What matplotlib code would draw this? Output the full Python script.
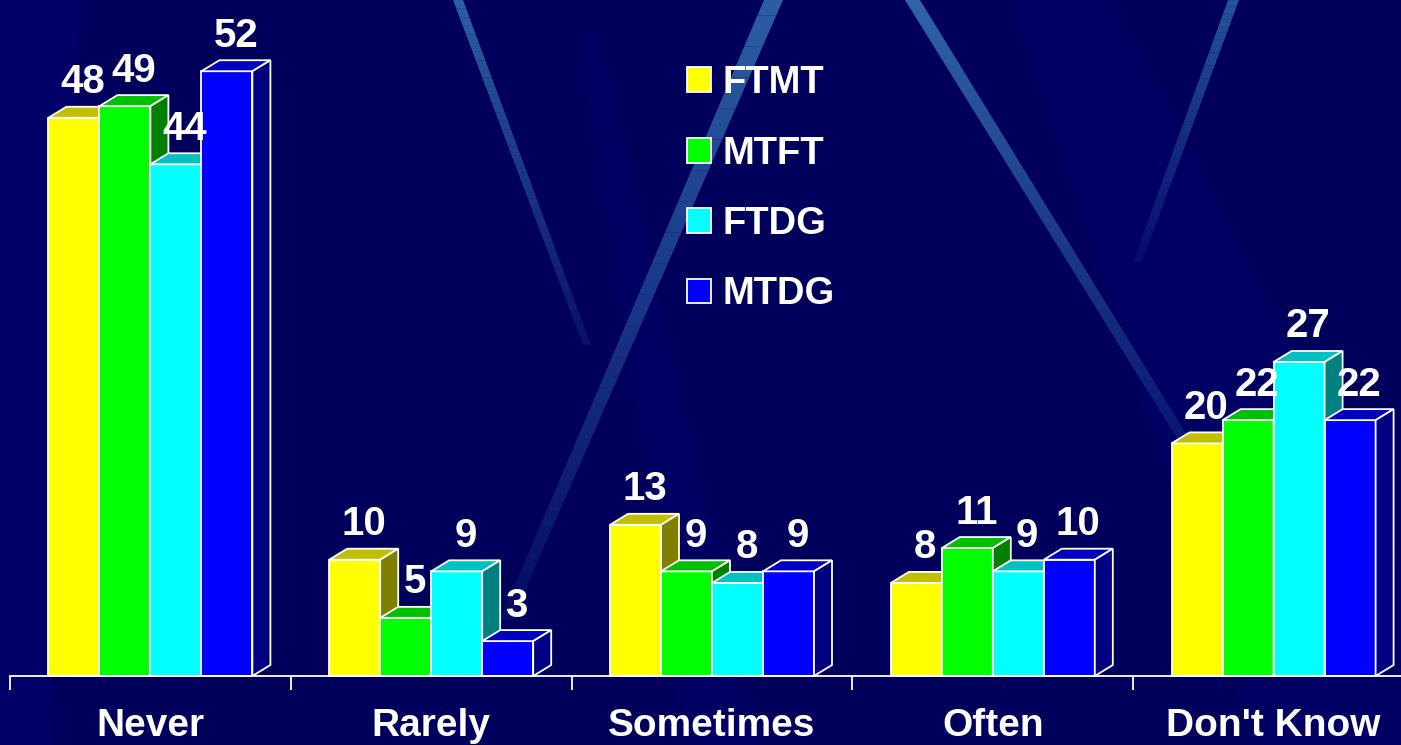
import numpy as np
import matplotlib
matplotlib.use("Agg")
import matplotlib.pyplot as plt
from matplotlib.patches import Polygon

# ── Data ──────────────────────────────────────────────────────────────────────
categories = ["Never", "Rarely", "Sometimes", "Often", "Don't Know"]
series = ["FTMT", "MTFT", "FTDG", "MTDG"]
ftmt = [48, 10, 13, 8, 20]
mtft = [49, 5, 9, 11, 22]
ftdg = [44, 9, 8, 9, 27]
mtdg = [52, 3, 9, 10, 22]
values = [ftmt, mtft, ftdg, mtdg]

# ── Style ─────────────────────────────────────────────────────────────────────
front_colors = ["#ffff00", "#00ff00", "#00ffff", "#0000ff"]
top_colors   = ["#c0c000", "#00c000", "#00c0c0", "#0000c0"]
side_colors  = ["#808000", "#008000", "#008080", "#000080"]
BG = "#00005c"
FONT = "Liberation Sans"

W, H = 1401, 745
X0_PX, CAT_PX = 10, 280.8      # left edge of axis, width of one category
BASE_PX, UNIT_PX = 676, 11.63  # baseline row, pixels per unit
DX_PX, DY_PX = 18, 11          # 3D depth offset
BAR_PX = 51

fig = plt.figure(figsize=(W / 100, H / 100), dpi=100)
fig.patch.set_facecolor(BG)


def px(x, y):
    """top-left pixel coords -> figure fraction"""
    return (x / W, 1 - y / H)


def panel(pts, color, alpha=1.0):
    fig.add_artist(Polygon([px(*p) for p in pts], closed=True, transform=fig.transFigure,
                           facecolor=color, edgecolor="none", alpha=alpha, zorder=0))


def streak(top, bot, w0, w1, a0, a1, n=40):
    """light diagonal streak, tapering and fading towards its lower end"""
    (xa, ya), (xb, yb) = top, bot
    for k in range(n):
        t0, t1 = k / n, (k + 1) / n
        p0 = (xa + (xb - xa) * t0, ya + (yb - ya) * t0)
        p1 = (xa + (xb - xa) * t1, ya + (yb - ya) * t1)
        wa = w0 + (w1 - w0) * t0
        wb = w0 + (w1 - w0) * t1
        a = a0 + (a1 - a0) * (t0 + t1) / 2
        panel([p0, (p0[0] + wa, p0[1]), (p1[0] + wb, p1[1]), p1], "#3470b0", a)


# background decoration
panel([(0, 0), (80, 0), (50, 745), (0, 745)], "#000068")
panel([(577, 30), (600, 30), (760, 745), (690, 745)], "#000063")
panel([(1010, 0), (1110, 0), (1401, 560), (1401, 745), (1260, 745)], "#000064")
streak((453, 0), (583, 345), 10, 8, 0.85, 0.15)
streak((764, 0), (500, 620), 19, 12, 0.85, 0.1)
streak((905, 0), (1178, 440), 15, 12, 0.9, 0.2)
streak((1228, 0), (1133, 262), 11, 9, 0.75, 0.1)

ax = fig.add_axes([0, 0, 1, 1])
ax.set_facecolor("none")

bw = BAR_PX / CAT_PX
dx = DX_PX / CAT_PX
dy = DY_PX / UNIT_PX
centers = np.arange(len(categories)) + 0.5

handles = []
for j, vals in enumerate(values):
    xs = centers + (j - 1.5) * bw
    b = ax.bar(xs, vals, width=bw, color=front_colors[j], edgecolor="white",
               linewidth=1.3, zorder=10 + j, label=series[j])
    handles.append(b)
    for x, v in zip(xs, vals):
        l, r = x - bw / 2, x + bw / 2
        ax.add_patch(Polygon([(l, v), (r, v), (r + dx, v + dy), (l + dx, v + dy)],
                             facecolor=top_colors[j], edgecolor="white", linewidth=1.3,
                             zorder=10.5 + j))
        ax.add_patch(Polygon([(r, 0), (r + dx, dy), (r + dx, v + dy), (r, v)],
                             facecolor=side_colors[j], edgecolor="white", linewidth=1.3,
                             zorder=10.5 + j))
        ax.annotate(f"{v}", (x + dx / 2, v + dy), xytext=(0, 4), textcoords="offset points",
                    ha="center", va="bottom", color="white", fontsize=29,
                    fontweight="bold", family=FONT, zorder=20)

# axis line + ticks
for s in ["top", "right", "left"]:
    ax.spines[s].set_visible(False)
ax.spines["bottom"].set_position(("data", 0))
ax.spines["bottom"].set_bounds(0, len(categories))
ax.spines["bottom"].set_color("white")
ax.spines["bottom"].set_linewidth(1.3)
ax.spines["bottom"].set_zorder(30)
ax.set_yticks([])
ax.set_xticks(np.arange(len(categories) + 1))
ax.set_xticklabels([])
ax.tick_params(axis="x", which="major", direction="out", length=10, width=1.3, color="white")
ax.set_xticks(centers, minor=True)
ax.set_xticklabels(categories, minor=True)
ax.tick_params(axis="x", which="minor", length=0, pad=23, labelcolor="white")
for t in ax.get_xticklabels(minor=True):
    t.set_fontsize(28)
    t.set_fontweight("bold")
    t.set_family(FONT)

# limits last, so the tick setters cannot widen them
ax.set_xlim(-X0_PX / CAT_PX, (W - X0_PX) / CAT_PX)
ax.set_ylim(-(H - BASE_PX) / UNIT_PX, BASE_PX / UNIT_PX)

leg = ax.legend(handles=handles, loc="upper left", bbox_to_anchor=px(672, 50),
                bbox_transform=fig.transFigure, frameon=False,
                prop={"family": FONT, "weight": "bold", "size": 27.5},
                handlelength=0.62, handleheight=0.62, handletextpad=0.3,
                labelspacing=0.9, borderaxespad=0)
for t in leg.get_texts():
    t.set_color("white")
leg.set_zorder(40)

fig.savefig("out.png", dpi=100, facecolor=fig.get_facecolor())
